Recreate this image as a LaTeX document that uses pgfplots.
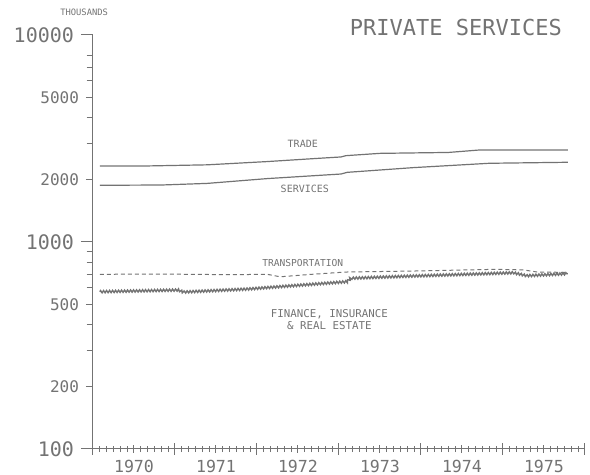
\documentclass[border=0pt]{standalone}
\usepackage{fontspec}
\setmainfont{DejaVu Sans Mono}
\usepackage{pgfplots}
\pgfplotsset{compat=1.18}
\usetikzlibrary{decorations.pathmorphing}
\definecolor{ink}{gray}{0.45}
\newcommand\fs[1]{\fontsize{#1}{#1}\selectfont}

% months counted from Jan 1970 (x=0)
\pgfplotstableread{
m v
1 2328
8 2330
16.7 2359
25.5 2446
33 2536
36.3 2575
37 2612
42 2680
52 2707
56.6 2783
62.6 2783
69.5 2783
}\trade
\pgfplotstableread{
m v
1 1879
10 1885
16.7 1919
25.5 2024
36.3 2130
37.2 2170
46.8 2286
58 2400
69.5 2427
}\services
\pgfplotstableread{
m v
1 698
10 700
20 695
25.5 698
27.4 679
32 698
37 716
47 724
59 738
63 733
65 716
69.5 713
}\transport
\pgfplotstableread{
m v
1 575
12.5 586
13.2 573
22.5 592
37.2 643
37.7 668
47 685
61.5 710
63.5 687
69.5 703
}\finance

\begin{document}
\begin{tikzpicture}
\useasboundingbox (-46.5pt,-13pt) rectangle (248.5pt,224.5pt);
\begin{axis}[
    at={(0,0)}, anchor=south west,
    scale only axis, width=246pt, height=207pt,
    ymode=log, xmin=0, xmax=72, ymin=100, ymax=10000,
    axis lines*=left,
    clip=false,
    axis line style={ink, line width=0.5pt},
    every tick/.style={ink, line width=0.5pt},
    xtick align=center, ytick align=outside,
    major tick length=6pt, minor tick length=3.2pt,
    xtick={0,12,...,72}, xticklabels={{},{},{},{},{},{},{}},
    minor x tick num=11,
    extra x ticks={6,18,...,66},
    extra x tick labels={1970,1971,1972,1973,1974,1975},
    extra x tick style={major tick length=4pt},
    xticklabel style={ink, font=\fs{8.3}},
    ytick={100,1000,10000},
    yticklabels={100,1000,10000},
    yticklabel style={ink, font=\fs{10}},
    extra y ticks={200,500,2000,5000},
    extra y tick labels={{\fs{8}200},{\fs{8}500},{\fs{8}2000},{\fs{8}5000}},
    extra y tick style={major tick length=3.5pt},
    minor ytick={300,400,600,700,800,900,3000,4000,6000,7000,8000},
]
\addplot[ink, line width=0.6pt] table[x=m, y=v] {\trade};
\addplot[ink, line width=0.6pt] table[x=m, y=v] {\services};
\addplot[ink, line width=0.5pt, dash pattern=on 2pt off 1.5pt] table[x=m, y=v] {\transport};
\addplot[ink, line width=0.7pt, decorate,
    decoration={zigzag, segment length=1.5pt, amplitude=0.55pt}] table[x=m, y=v] {\finance};

\node[ink, font=\fs{4.4}] at (axis cs:-1.3,12915) {THOUSANDS};
\node[ink, font=\fs{11}] at (axis cs:53.1,10810) {PRIVATE SERVICES};
\node[ink, font=\fs{5}] at (axis cs:30.7,2974) {TRADE};
\node[ink, font=\fs{5}] at (axis cs:31,1803) {SERVICES};
\node[ink, font=\fs{4.8}] at (axis cs:30.7,794) {TRANSPORTATION};
\node[ink, font=\fs{5.4}, align=center] at (axis cs:34.6,422) {FINANCE, INSURANCE\\[0.6pt]\& REAL ESTATE};
\end{axis}
\end{tikzpicture}
\end{document}
